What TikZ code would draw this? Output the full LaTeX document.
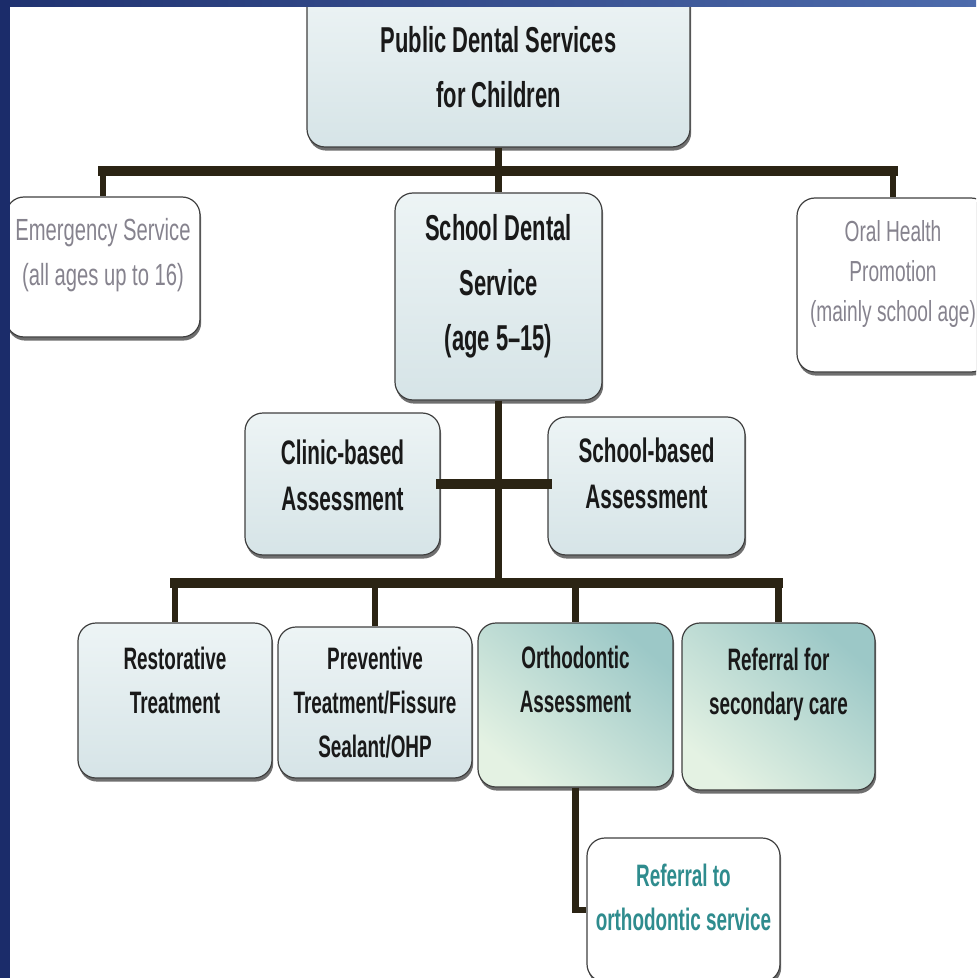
\documentclass[tikz,border=0pt]{standalone}
\usepackage{fontspec}
\setmainfont{Liberation Sans}[FakeStretch=0.66]
\newfontfamily\heavy{Liberation Sans}[UprightFont={* Bold}, FakeStretch=0.61, Ligatures=TeX]
\usetikzlibrary{positioning,shadows}

\definecolor{linkbrown}{HTML}{2B2414}
\definecolor{framedark}{HTML}{1B2C6A}
\definecolor{framelight}{HTML}{4D6BAC}
\definecolor{greytext}{HTML}{86838E}
\definecolor{tealtext}{HTML}{2F8C8E}
\definecolor{paletop}{HTML}{EDF4F5}
\definecolor{palebot}{HTML}{D6E4E7}
\definecolor{tealtop}{HTML}{9CC8C7}
\definecolor{tealbot}{HTML}{E4F2E3}

\begin{document}
\begin{tikzpicture}[x=0.5pt, y=-0.5pt,
  box/.style={draw=black!75, line width=0.6pt, rounded corners=9pt, align=center, inner sep=0pt, text=black!90,
    drop shadow={shadow xshift=0.6pt, shadow yshift=-1.8pt, fill=black!70, opacity=0.8}},
  pale/.style={box, top color=paletop, bottom color=palebot},
  tealbox/.style={box, top color=tealtop, bottom color=tealbot, shading angle=-40},
  plain/.style={box, fill=white},
  big/.style={font=\heavy\fontsize{18}{27.5}\selectfont},
  mid/.style={font=\heavy\fontsize{17}{23}\selectfont},
  small/.style={font=\heavy\fontsize{15.5}{22}\selectfont},
  hlink/.style={draw=linkbrown, line width=4.6pt, line cap=rect},
  vlink/.style={draw=linkbrown, line width=3.3pt}]
\useasboundingbox (0,0) rectangle (976,978);
\clip (0,0) rectangle (976,978);
\fill[white] (0,0) rectangle (976,978);

\node[pale, big, minimum width=191.5pt, minimum height=80pt] (pub) at (498.5,67) {Public Dental Services\\for Children};
\node[plain, text=greytext, font=\fontsize{15.3}{22.5}\selectfont, minimum width=97pt, minimum height=70pt, text depth=15.5pt] (emg) at (103,267) {Emergency Service\\(all ages up to 16)};
\node[pale, big, minimum width=103.5pt, minimum height=103.5pt, text depth=14.5pt] (sds) at (498.5,296.5) {School Dental\\Service\\(age 5–15)};
\node[plain, text=greytext, font=\fontsize{14.5}{20}\selectfont, minimum width=96pt, minimum height=87pt, text depth=14pt] (ohp) at (893,285) {Oral Health\\Promotion\\(mainly school age)};
\node[pale, mid, minimum width=97.5pt, minimum height=71pt, text depth=9pt] (clin) at (342.5,484) {Clinic-based\\Assessment};
\node[pale, mid, minimum width=98.5pt, minimum height=69pt, text depth=12.5pt] (schl) at (646.5,486) {School-based\\Assessment};
\node[pale, small, minimum width=97pt, minimum height=77.5pt, text depth=20pt] (rest) at (175,700.5) {Restorative\\Treatment};
\node[pale, small, minimum width=97pt, minimum height=75.5pt, text depth=0.5pt] (prev) at (375,702.5) {Preventive\\Treatment/Fissure\\Sealant/OHP};
\node[tealbox, small, minimum width=97.5pt, minimum height=82pt, text depth=26pt] (orth) at (575.5,705) {Orthodontic\\Assessment};
\node[tealbox, small, minimum width=96.5pt, minimum height=83.5pt, text depth=25pt] (sec) at (778.5,706.5) {Referral for\\secondary care};
\node[plain, small, text=tealtext, minimum width=96.5pt, minimum height=72pt, text depth=13pt] (ortr) at (683.5,910) {Referral to\\orthodontic service};

\coordinate (tbar) at (498.5,171);
\coordinate (bbar) at (498.5,583);
\draw[vlink] (pub) -- (sds);
\draw[hlink] (emg.north |- tbar) -- (ohp.north |- tbar);
\draw[vlink] (emg.north |- tbar) -- (emg.north);
\draw[vlink] (ohp.north |- tbar) -- (ohp.north);
\draw[vlink] (sds) -- (bbar);
\draw[hlink] (clin.east) -- (clin.east -| schl.west);
\draw[hlink] (rest.north |- bbar) -- (sec.north |- bbar);
\foreach \n in {rest,prev,orth,sec}
  \draw[vlink] (\n.north |- bbar) -- (\n.north);
\draw[vlink] (orth.south) |- (ortr.west);

% frame
\fill[left color=framedark!90!framelight, right color=framelight] (0,0) rectangle (976,7);
\fill[framedark] (0,0) rectangle (10,978);
\end{tikzpicture}
\end{document}
